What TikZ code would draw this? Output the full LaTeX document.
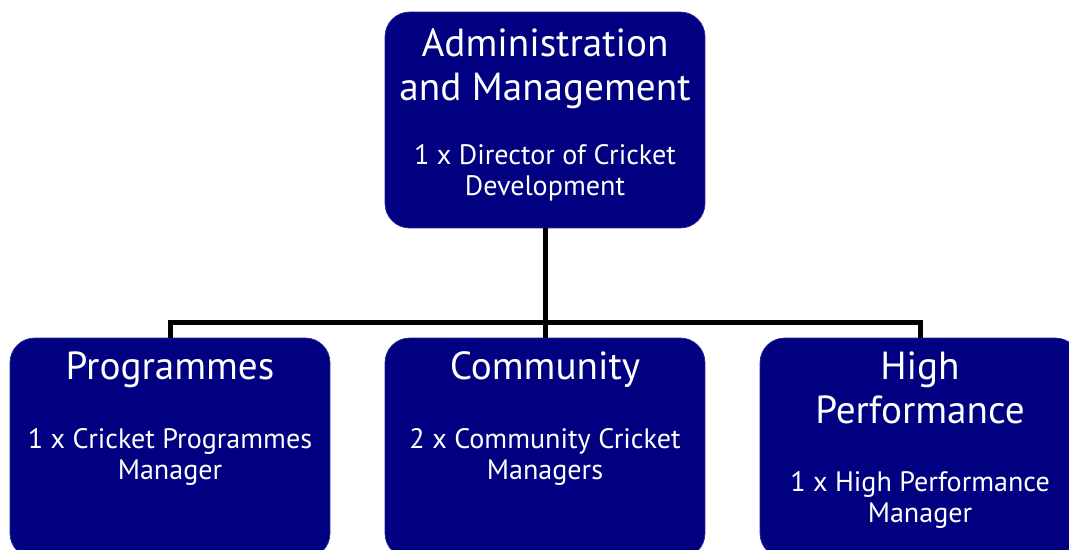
\documentclass[tikz,border=0pt]{standalone}
\usepackage{fontspec}
\setmainfont{PT Sans}
\usetikzlibrary{positioning,calc}
\definecolor{unitblue}{HTML}{000080}

\tikzset{
  unit/.style={fill=unitblue, draw=unitblue!85!white, thin, rounded corners=14pt,
    minimum width=6.4cm, inner sep=0pt},
  unittitle/.style={text=white, align=center, anchor=north, inner sep=0pt,
    font=\fontsize{22.3}{25}\selectfont},
  unitrole/.style={text=white, align=center, anchor=north, inner sep=0pt,
    font=\fontsize{16}{18}\selectfont},
  link/.style={draw=black, line width=0.1cm}
}

\begin{document}
\begin{tikzpicture}[x=0.02cm, y=-0.02cm]
  \useasboundingbox (0,0) rectangle (1069,549);

  % the four units
  \node[unit, minimum height=4.32cm] (admin) at (545,120) {};
  \node[unit, minimum height=4.4cm] (programmes) at (170,448) {};
  \node[unit, minimum height=4.4cm] (community) at (545,448) {};
  \node[unit, minimum height=4.4cm] (performance) at (920,448) {};

  % branch lines
  \coordinate (fork) at ($(admin.south)+(0,94)$);
  \draw[link] (admin.south) -- (community.north);
  \draw[link] (programmes.north) |- (fork) -| (performance.north);

  % titles and roles
  \node[unittitle] (admin-title) at ($(admin.north)+(0,17)$) {Administration\\and Management};
  \node[unitrole] (admin-role) at ($(admin.north)+(0,132)$) {1 x Director of Cricket\\Development};

  \node[unittitle] (programmes-title) at ($(programmes.north)+(0,14)$) {Programmes};
  \node[unitrole] (programmes-role) at ($(programmes.north)+(0,90)$) {1 x Cricket Programmes\\Manager};

  \node[unittitle] (community-title) at ($(community.north)+(0,14)$) {Community};
  \node[unitrole] (community-role) at ($(community.north)+(0,90)$) {2 x Community Cricket\\Managers};

  \node[unittitle] (performance-title) at ($(performance.north)+(0,14)$) {High\\Performance};
  \node[unitrole] (performance-role) at ($(performance.north)+(0,133)$) {1 x High Performance\\Manager};
\end{tikzpicture}
\end{document}
